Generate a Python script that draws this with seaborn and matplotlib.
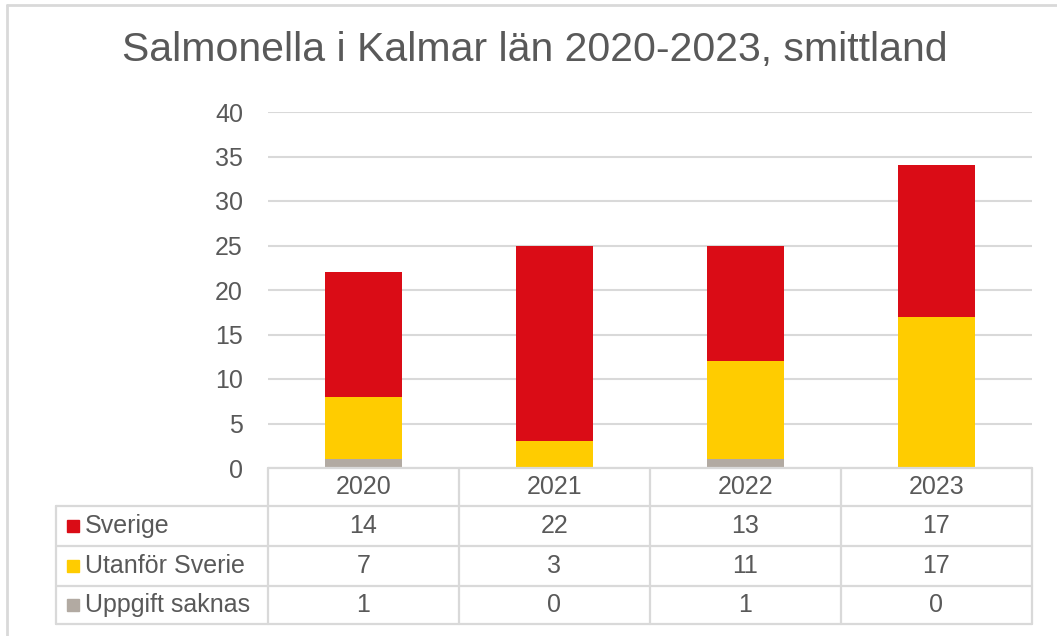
import matplotlib
matplotlib.use("Agg")
import matplotlib.pyplot as plt
import seaborn as sns
import numpy as np
import pandas as pd
from matplotlib.lines import Line2D
from matplotlib.patches import Rectangle
import matplotlib.transforms as mtransforms

years = ["2020", "2021", "2022", "2023"]
series_names = ["Sverige", "Utanför Sverie", "Uppgift saknas"]
sverige = [14, 22, 13, 17]
utanfor = [7, 3, 11, 17]
saknas = [1, 0, 1, 0]
colors = ["#DA0C16", "#FFCC00", "#B2AAA2"]
title = "Salmonella i Kalmar län 2020-2023, smittland"
yticks = [0, 5, 10, 15, 20, 25, 30, 35, 40]

sns.set_style("white")
plt.rcParams["font.family"] = ["Liberation Sans", "DejaVu Sans"]
txt = "#595959"
grid = "#D9D9D9"
fs = 18

W, H = 1057, 636
fig = plt.figure(figsize=(W / 100, H / 100), dpi=100)
fig.patch.set_facecolor("white")

def fx(px):
    return px / W

def fy(py):
    return 1 - py / H

ax_left, ax_right, ax_top, ax_bot = 268, 1032, 112, 468
ax = fig.add_axes([fx(ax_left), fy(ax_bot), fx(ax_right - ax_left), (ax_bot - ax_top) / H])

df = pd.DataFrame({"year": years, "Sverige": sverige, "Utanfor": utanfor, "Saknas": saknas})
df["total"] = df["Sverige"] + df["Utanfor"] + df["Saknas"]
df["low2"] = df["Utanfor"] + df["Saknas"]

for col, c in zip(["total", "low2", "Saknas"], colors):
    sns.barplot(data=df, x="year", y=col, color=c, width=0.4, ax=ax, saturation=1,
                zorder=3, linewidth=0, edgecolor=c)

ax.set_ylim(0, 40)
ax.set_xlim(-0.5, len(years) - 0.5)
ax.set_yticks(yticks)
ax.set_yticklabels([str(t) for t in yticks], fontsize=fs, color=txt)
ax.tick_params(axis="y", length=0, pad=18)
ax.set_xticks([])
ax.set_xlabel("")
ax.set_ylabel("")
for s in ax.spines.values():
    s.set_visible(False)
ax.yaxis.grid(True, color=grid, linewidth=1.5)
ax.set_axisbelow(True)

fig.text(fx(535), fy(50), title, ha="center", va="center", fontsize=29.5, color=txt)

# data table
row_edges = [468, 506, 546, 586, 624]
label_left = 56
col_edges_data = np.arange(len(years) + 1) - 0.5
trans = mtransforms.blended_transform_factory(ax.transData, fig.transFigure)
lw = 1.6
for i, r in enumerate(row_edges):
    x0 = ax_left if i == 0 else label_left
    fig.add_artist(Line2D([fx(x0), fx(ax_right)], [fy(r), fy(r)], color=grid, lw=lw))
for c in col_edges_data:
    fig.add_artist(Line2D([c, c], [fy(row_edges[0]), fy(row_edges[-1])], color=grid, lw=lw, transform=trans))
fig.add_artist(Line2D([fx(label_left)] * 2, [fy(row_edges[1]), fy(row_edges[-1])], color=grid, lw=lw))

for i, yr in enumerate(years):
    fig.text(i, fy((row_edges[0] + row_edges[1]) / 2), yr, ha="center", va="center",
             fontsize=fs, color=txt, transform=trans)
vals = [sverige, utanfor, saknas]
for r, (name, v, col) in enumerate(zip(series_names, vals, colors)):
    yc = fy((row_edges[r + 1] + row_edges[r + 2]) / 2)
    fig.add_artist(Rectangle((fx(67), yc - 6 / H), 12 / W, 12 / H, color=col, transform=fig.transFigure))
    fig.text(fx(85), yc, name, ha="left", va="center", fontsize=fs, color=txt)
    for i, val in enumerate(v):
        fig.text(i, yc, str(val), ha="center", va="center", fontsize=fs, color=txt, transform=trans)

# outer frame
fig.add_artist(Line2D([fx(7), 1.0], [fy(5), fy(5)], color=grid, lw=2))
fig.add_artist(Line2D([fx(7), fx(7)], [fy(5), 0], color=grid, lw=2))

fig.savefig("out.png", dpi=100)
